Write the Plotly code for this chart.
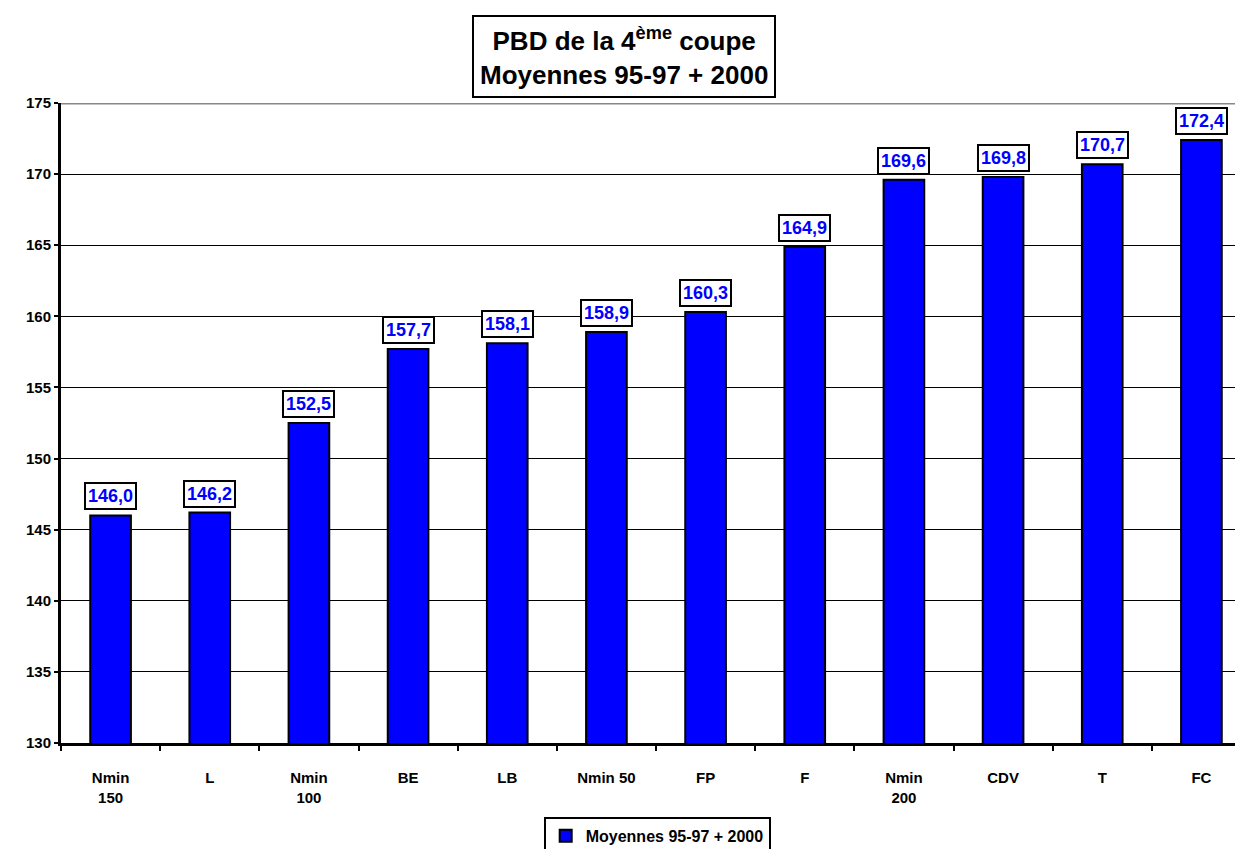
import plotly.graph_objects as go

categories = ['Nmin<br>150', 'L', 'Nmin<br>100', 'BE', 'LB', 'Nmin 50', 'FP', 'F',
              'Nmin<br>200', 'CDV', 'T', 'FC']
values = [146.0, 146.2, 152.5, 157.7, 158.1, 158.9, 160.3, 164.9, 169.6, 169.8, 170.7, 172.4]
series_name = 'Moyennes 95-97 + 2000'
y_ticks = [130, 135, 140, 145, 150, 155, 160, 165, 170, 175]

FONT = 'Liberation Sans, Arial, sans-serif'

fig = go.Figure()
fig.add_trace(go.Bar(
    x=categories, y=values, name=series_name,
    marker=dict(color='#0000FF', line=dict(color='black', width=2)),
    width=0.41,
))

# value labels in boxes
for c, v in zip(categories, values):
    fig.add_annotation(
        x=c, y=v, text=f'{v:.1f}'.replace('.', ','),
        showarrow=False, yanchor='bottom', yshift=5,
        font=dict(family=FONT, size=18, color='#0000FF', weight='bold'),
        bgcolor='white', bordercolor='black', borderwidth=2, borderpad=2,
    )

# title box
fig.add_annotation(
    xref='paper', yref='paper', x=0.473, y=1.072,
    xanchor='center', yanchor='middle', showarrow=False,
    text='PBD de la 4<sup>ème</sup> coupe<br>Moyennes 95-97 + 2000',
    font=dict(family=FONT, size=26, color='black', weight='bold'),
    bgcolor='white', bordercolor='black', borderwidth=2, borderpad=6,
)

# grey top border line
fig.add_shape(type='line', xref='paper', yref='y', x0=0, x1=1, y0=175, y1=175,
              line=dict(color='#888888', width=3))

fig.update_layout(
    width=1243, height=849,
    margin=dict(l=53, r=0, t=95, b=114, autoexpand=False),
    plot_bgcolor='white', paper_bgcolor='white',
    font=dict(family=FONT, size=15, color='black', weight='bold'),
    showlegend=True,
    legend=dict(
        orientation='h', x=0.501, y=0.025, yref='container',
        xanchor='center', yanchor='middle',
        bordercolor='black', borderwidth=2, bgcolor='white',
        font=dict(family=FONT, size=16, color='black', weight='bold'),
        itemwidth=30, tracegroupgap=0,
    ),
    xaxis=dict(
        type='category', tickson='boundaries', ticks='outside', ticklen=5,
        tickwidth=2, tickcolor='black', showline=True, linecolor='black',
        linewidth=3, showgrid=False, ticklabelstandoff=19,
        tickfont=dict(family=FONT, size=15, color='black', weight='bold'),
    ),
    yaxis=dict(
        range=[130, 175], tickvals=y_ticks, ticks='outside', ticklen=4,
        tickwidth=2, tickcolor='black', showline=True, linecolor='black',
        linewidth=3, showgrid=True, gridcolor='black', gridwidth=1,
        zeroline=False,
        tickfont=dict(family=FONT, size=15, color='black', weight='bold'),
    ),
)

fig.write_html('out.html')
